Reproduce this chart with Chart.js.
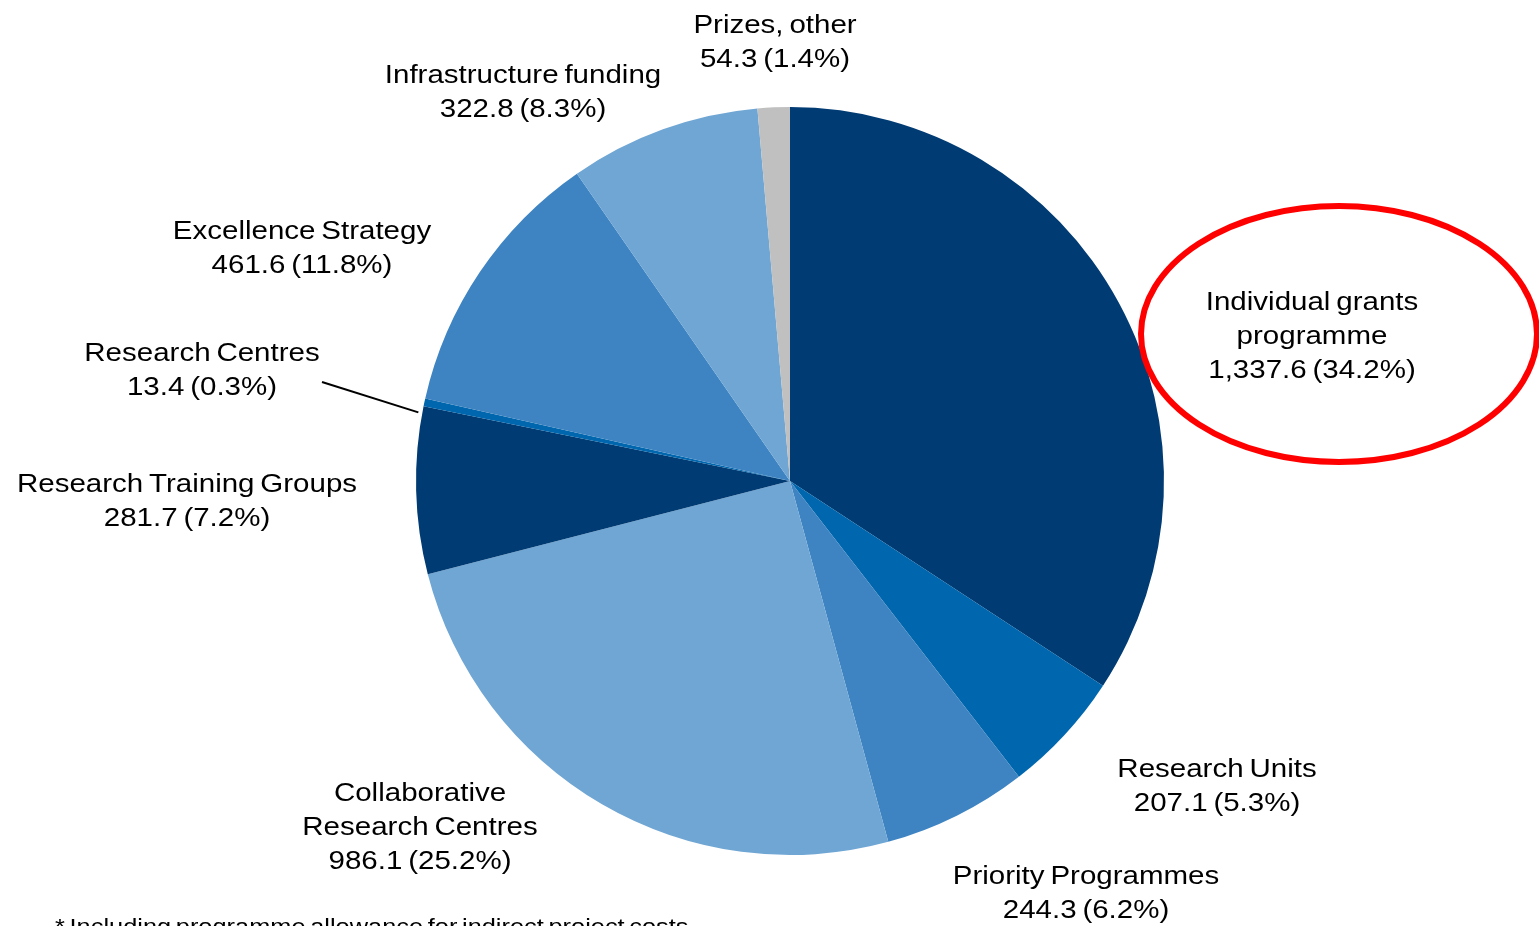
<!DOCTYPE html>
<html>
<head>
<meta charset="utf-8">
<script src="https://cdn.jsdelivr.net/npm/chart.js@4"></script>
<style>
html,body{margin:0;padding:0;background:#fff;overflow:hidden;}
#wrap{position:relative;width:1539px;height:926px;}
</style>
</head>
<body>
<div id="wrap"><canvas id="c" width="1539" height="926"></canvas></div>
<script>
// ---- data ----
const categories = [
  ["Individual grants", "programme"],
  ["Research Units"],
  ["Priority Programmes"],
  ["Collaborative", "Research Centres"],
  ["Research Training Groups"],
  ["Research Centres"],
  ["Excellence Strategy"],
  ["Infrastructure funding"],
  ["Prizes, other"]
];
const values = [1337.6, 207.1, 244.3, 986.1, 281.7, 13.4, 461.6, 322.8, 54.3];
const footnote = "* Including programme allowance for indirect project costs";

// ---- style / layout ----
const colors = ["#003b73", "#0066ad", "#3e84c2", "#6fa6d4", "#003b73", "#0066ad", "#3e84c2", "#6fa6d4", "#c0c0c0"];
// label block anchors (centre x, baseline y of first line)
const labelPos = [
  [1312, 310], [1217, 777], [1086, 884], [420, 801], [187, 492],
  [202, 361], [302, 239], [523, 83], [775, 33]
];
const FONT = '25px "Liberation Sans", Arial, sans-serif';
const STRETCH = 1.18;
const LINE_H = 34;

const total = values.reduce((a, b) => a + b, 0);
function fmt(v) {
  return v.toLocaleString('en-US', {minimumFractionDigits: 1, maximumFractionDigits: 1});
}
function stretchedText(ctx, t, x, y, align) {
  ctx.save();
  ctx.translate(x, y);
  ctx.scale(STRETCH, 1);
  ctx.textAlign = align;
  ctx.fillText(t, 0, 0);
  ctx.restore();
}

const labelPlugin = {
  id: 'labels',
  afterDraw(chart) {
    const ctx = chart.ctx;
    const meta = chart.getDatasetMeta(0);
    ctx.save();
    ctx.fillStyle = '#000';
    ctx.font = FONT;
    ctx.textBaseline = 'alphabetic';
    try { ctx.wordSpacing = '-2px'; } catch (e) {}
    values.forEach((v, i) => {
      const lines = categories[i].concat([fmt(v) + ' (' + (v / total * 100).toFixed(1) + '%)']);
      const [x, y] = labelPos[i];
      lines.forEach((t, k) => stretchedText(ctx, t, x, y + k * LINE_H, 'center'));
    });
    // leader line for small slice (Research Centres)
    const arc = meta.data[5];
    const mid = (arc.startAngle + arc.endAngle) / 2;
    const ex = arc.x + Math.cos(mid) * arc.outerRadius;
    const ey = arc.y + Math.sin(mid) * arc.outerRadius;
    ctx.strokeStyle = '#000';
    ctx.lineWidth = 2;
    ctx.beginPath();
    ctx.moveTo(322, 382);
    ctx.lineTo(ex - 6, ey + 10);
    ctx.stroke();
    // red ellipse highlight
    ctx.strokeStyle = '#ff0000';
    ctx.lineWidth = 6;
    ctx.beginPath();
    ctx.ellipse(1339, 334, 198, 128, 0, 0, Math.PI * 2);
    ctx.stroke();
    // footnote
    ctx.font = '21.5px "Liberation Sans", Arial, sans-serif';
    stretchedText(ctx, footnote, 55, 934, 'left');
    ctx.restore();
  }
};

new Chart(document.getElementById('c'), {
  type: 'pie',
  data: {
    labels: categories.map(c => c.join(' ')),
    datasets: [{
      data: values,
      backgroundColor: colors,
      borderWidth: 0
    }]
  },
  options: {
    responsive: false,
    animation: false,
    layout: {padding: {left: 416, right: 375, top: 107, bottom: 71}},
    plugins: {legend: {display: false}, tooltip: {enabled: false}}
  },
  plugins: [labelPlugin]
});
</script>
</body>
</html>
